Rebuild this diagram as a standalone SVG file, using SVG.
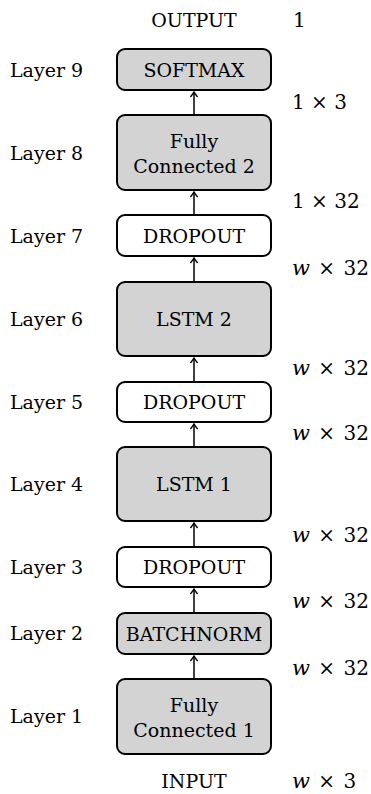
<svg xmlns="http://www.w3.org/2000/svg" width="371" height="794" viewBox="0 0 371 794">
<style>
text{font-family:'DejaVu Serif','Liberation Serif',serif;font-size:19px;fill:#000}
.c{text-anchor:middle}
.b{stroke:#000;stroke-width:2}
.g{fill:#d3d3d3}
.w{fill:#fff}
.m{font-size:20px}
.i{font-style:italic;font-size:21px}
.e{stroke:#000;stroke-width:1.5;fill:none}
</style>
<defs>
<marker id="ah" viewBox="-6 -4 8 8" markerWidth="8" markerHeight="8" refX="0" refY="0" orient="auto" markerUnits="userSpaceOnUse">
<path d="M-4.5,-3.2 Q-1.5,-0.8 0,0 Q-1.5,0.8 -4.5,3.2" fill="none" stroke="#000" stroke-width="1.4" stroke-linecap="round"/>
</marker>
</defs>
<rect width="371" height="794" fill="#fff"/>
<text class="c" x="194" y="27">OUTPUT</text>
<text x="293" y="27" class="m">1</text>
<g id="softmax"><rect class="b g" x="117" y="49" width="154" height="41" rx="8"/><text class="c" x="194" y="77">SOFTMAX</text></g>
<g id="fc2"><rect class="b g" x="117" y="115" width="154" height="75" rx="8"/><text class="c" x="194" y="148">Fully</text><text class="c" x="194" y="173">Connected 2</text></g>
<g id="dropout7"><rect class="b w" x="117" y="215" width="154" height="41" rx="8"/><text class="c" x="194" y="243">DROPOUT</text></g>
<g id="lstm2"><rect class="b g" x="117" y="282" width="154" height="74" rx="8"/><text class="c" x="194" y="326">LSTM 2</text></g>
<g id="dropout5"><rect class="b w" x="117" y="382" width="154" height="40" rx="8"/><text class="c" x="194" y="409">DROPOUT</text></g>
<g id="lstm1"><rect class="b g" x="117" y="447" width="154" height="74" rx="8"/><text class="c" x="194" y="491">LSTM 1</text></g>
<g id="dropout3"><rect class="b w" x="117" y="547" width="154" height="40" rx="8"/><text class="c" x="194" y="574">DROPOUT</text></g>
<g id="batchnorm"><rect class="b g" x="117" y="613" width="154" height="41" rx="8"/><text class="c" x="194" y="641">BATCHNORM</text></g>
<g id="fc1"><rect class="b g" x="117" y="679" width="154" height="75" rx="8"/><text class="c" x="194" y="712">Fully</text><text class="c" x="194" y="737">Connected 1</text></g>
<text class="c" x="194" y="788">INPUT</text>
<g id="connectors">
<line class="e" x1="194" y1="678" x2="194" y2="656" marker-end="url(#ah)"/>
<line class="e" x1="194" y1="612" x2="194" y2="589" marker-end="url(#ah)"/>
<line class="e" x1="194" y1="546" x2="194" y2="523" marker-end="url(#ah)"/>
<line class="e" x1="194" y1="446" x2="194" y2="424" marker-end="url(#ah)"/>
<line class="e" x1="194" y1="381" x2="194" y2="358" marker-end="url(#ah)"/>
<line class="e" x1="194" y1="281" x2="194" y2="258" marker-end="url(#ah)"/>
<line class="e" x1="194" y1="214" x2="194" y2="192" marker-end="url(#ah)"/>
<line class="e" x1="194" y1="114" x2="194" y2="92" marker-end="url(#ah)"/>
</g>
<g id="layers">
<text x="10" y="77">Layer 9</text>
<text x="10" y="160">Layer 8</text>
<text x="10" y="243">Layer 7</text>
<text x="10" y="326">Layer 6</text>
<text x="10" y="409">Layer 5</text>
<text x="10" y="491">Layer 4</text>
<text x="10" y="574">Layer 3</text>
<text x="10" y="640">Layer 2</text>
<text x="10" y="723">Layer 1</text>
</g>
<g id="dims">
<text class="m" x="292" y="109">1 × 3</text>
<text class="m" x="292" y="208">1 × 32</text>
<text class="m" x="292" y="275" word-spacing="2"><tspan class="i">w</tspan> × 32</text>
<text class="m" x="292" y="375" word-spacing="2"><tspan class="i">w</tspan> × 32</text>
<text class="m" x="292" y="440" word-spacing="2"><tspan class="i">w</tspan> × 32</text>
<text class="m" x="292" y="542" word-spacing="2"><tspan class="i">w</tspan> × 32</text>
<text class="m" x="292" y="608" word-spacing="2"><tspan class="i">w</tspan> × 32</text>
<text class="m" x="292" y="675" word-spacing="2"><tspan class="i">w</tspan> × 32</text>
<text class="m" x="292" y="788" word-spacing="2"><tspan class="i">w</tspan> × 3</text>
</g>
</svg>
